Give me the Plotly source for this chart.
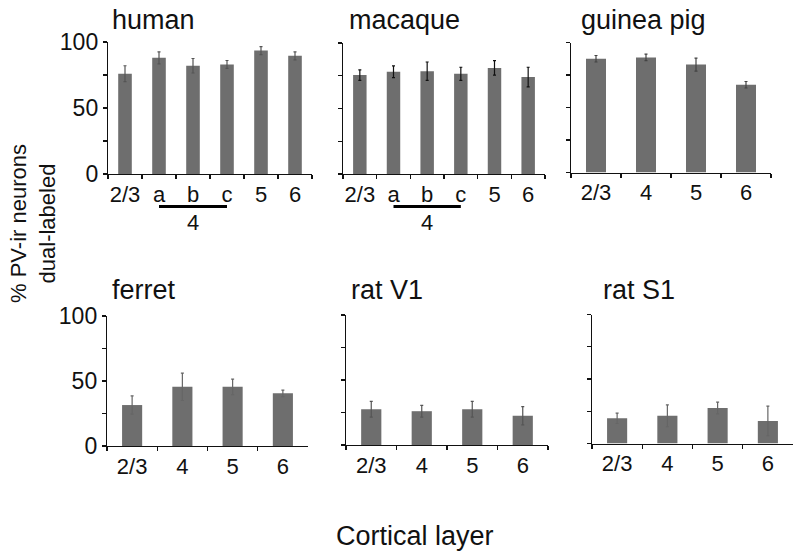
import plotly.graph_objects as go

W, H = 800, 558

# ---- data ----
human_layers = ["2/3", "a", "b", "c", "5", "6"]
human_values = [76, 88, 82, 83, 93.5, 89.5]
human_errors = [6, 4.5, 5.5, 3, 3, 3]

macaque_layers = ["2/3", "a", "b", "c", "5", "6"]
macaque_values = [75.5, 78, 78.5, 76.5, 81, 74]
macaque_errors = [4, 4.5, 7, 5, 5.5, 7.5]

guinea_layers = ["2/3", "4", "5", "6"]
guinea_values = [87.5, 88.5, 83, 67.5]
guinea_errors = [2.5, 2.5, 5, 2.5]

ferret_layers = ["2/3", "4", "5", "6"]
ferret_values = [31.5, 45.5, 45.5, 40.5]
ferret_errors = [7, 10.5, 6, 2.5]

ratv1_layers = ["2/3", "4", "5", "6"]
ratv1_values = [27.5, 26, 27.5, 22.5]
ratv1_errors = [6, 4.5, 6, 7]

rats1_layers = ["2/3", "4", "5", "6"]
rats1_values = [19.5, 21.5, 27.5, 17.5]
rats1_errors = [4, 8.5, 4.5, 11.5]

y_ticks = [0, 25, 50, 75, 100]
y_ticklabels = ["0", "", "50", "", "100"]


def px_x(p):
    return p / W


def px_y(p):
    return 1 - p / H


# ---- layout geometry (page pixels) ----
panels = [
    # title, layers, values, errors, x0,x1, ybottom,ytop, labeled, err color
    ("human", human_layers, human_values, human_errors, 108, 312, 174, 42, True, "#555555"),
    ("macaque", macaque_layers, macaque_values, macaque_errors, 343, 545, 174, 43, False, "#111111"),
    ("guinea pig", guinea_layers, guinea_values, guinea_errors, 571, 771, 172.5, 42.5, False, "#444444"),
    ("ferret", ferret_layers, ferret_values, ferret_errors, 107, 308, 446, 316, True, "#666666"),
    ("rat V1", ratv1_layers, ratv1_values, ratv1_errors, 346, 548, 445, 315, False, "#555555"),
    ("rat S1", rats1_layers, rats1_values, rats1_errors, 592, 793, 443.5, 314.5, False, "#666666"),
]
title_pos = [(110, 20), (347, 20), (579, 20), (110, 290), (349, 290), (601, 290)]

FONT = "Liberation Sans, Arial, sans-serif"
fig = go.Figure()
layout = {}
annotations = []
for i, (name, cats, vals, errs, x0, x1, yb, yt, labeled, ecol) in enumerate(panels):
    k = "" if i == 0 else str(i + 1)
    fig.add_trace(go.Bar(
        x=cats, y=vals, width=0.4,
        marker=dict(color="#6e6e6e", line=dict(width=0)),
        error_y=dict(type="data", array=errs, visible=True, color=ecol, thickness=1.2, width=1.5),
        xaxis="x" + k, yaxis="y" + k, showlegend=False,
    ))
    layout["xaxis" + k] = dict(
        domain=[px_x(x0), px_x(x1)], anchor="y" + k, type="category",
        tickson="boundaries", ticks="outside", ticklen=4, tickwidth=1.2, tickcolor="#111",
        showline=True, linecolor="#111", linewidth=1.2, showgrid=False,
        tickangle=0, automargin=False,
        tickfont=dict(size=22, color="#111", family=FONT), fixedrange=True,
    )
    layout["yaxis" + k] = dict(
        domain=[px_y(yb), px_y(yt)], anchor="x" + k, range=[0, 100],
        tickvals=y_ticks, ticktext=(y_ticklabels if labeled else [""] * 5),
        ticks="outside", ticklen=4, tickwidth=1.2, tickcolor="#111",
        showline=True, linecolor="#111", linewidth=1.2, showgrid=False, zeroline=False,
        automargin=False,
        tickfont=dict(size=23, color="#111", family=FONT), fixedrange=True,
    )
    tx, ty = title_pos[i]
    annotations.append(dict(text=name, x=px_x(tx), y=px_y(ty), xref="paper", yref="paper",
                            xanchor="left", yanchor="middle", showarrow=False,
                            font=dict(size=27, color="#111", family=FONT)))

# layer-4 brackets under a-b-c for human and macaque
shapes = []
for k in ["", "2"]:
    shapes.append(dict(type="line", xref="x" + k, yref="paper", x0="a", x1="c",
                       y0=px_y(206.5), y1=px_y(206.5), line=dict(color="#000", width=3)))
    annotations.append(dict(text="4", x="b", y=px_y(222), xref="x" + k, yref="paper",
                            xanchor="center", yanchor="middle", showarrow=False,
                            font=dict(size=22, color="#111", family=FONT)))

annotations.append(dict(text="% PV-ir neurons<br>dual-labeled", x=px_x(33), y=px_y(224),
                        xref="paper", yref="paper", textangle=-90, showarrow=False,
                        xanchor="center", yanchor="middle",
                        font=dict(size=22, color="#111", family=FONT)))
annotations.append(dict(text="Cortical layer", x=px_x(415), y=px_y(536),
                        xref="paper", yref="paper", showarrow=False,
                        xanchor="center", yanchor="middle",
                        font=dict(size=27, color="#111", family=FONT)))

fig.update_layout(width=W, height=H, margin=dict(l=0, r=0, t=0, b=0, autoexpand=False),
                  paper_bgcolor="white", plot_bgcolor="white", hovermode=False,
                  annotations=annotations, shapes=shapes, bargap=0.6, **layout)
fig.write_html("out.html", config={"displayModeBar": False, "staticPlot": True},
               post_script="document.body.style.margin='0';document.body.style.overflow='hidden';")
